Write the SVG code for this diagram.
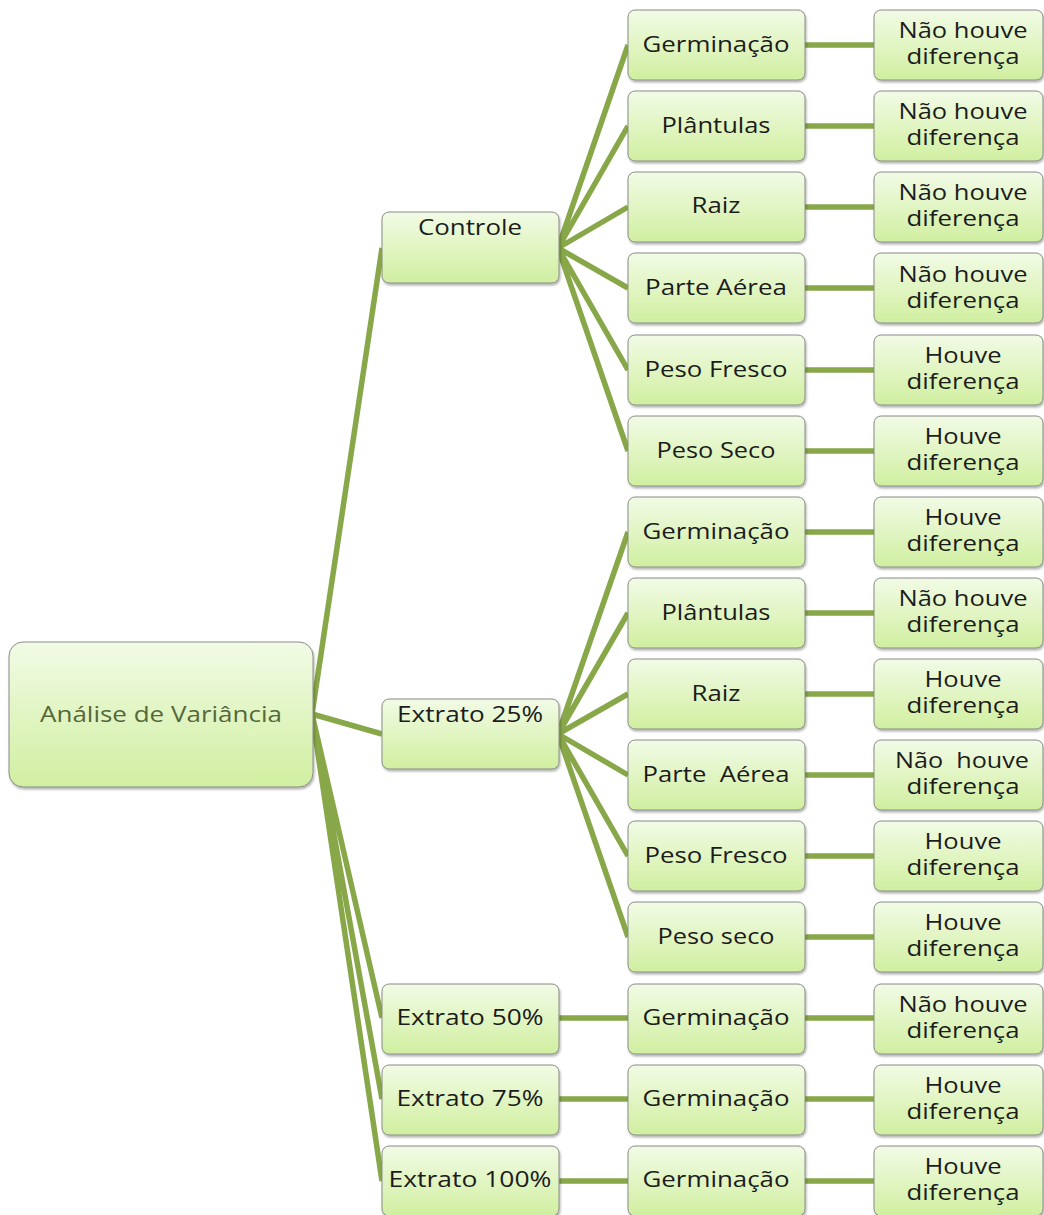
<svg xmlns="http://www.w3.org/2000/svg" width="1044" height="1215" viewBox="0 0 1044 1215">
<defs>
<linearGradient id="g" x1="0" y1="0" x2="0" y2="1">
<stop offset="0" stop-color="#f2fbe6"/>
<stop offset="1" stop-color="#d0efa0"/>
</linearGradient>
<filter id="sh" x="-5%" y="-5%" width="115%" height="120%">
<feDropShadow dx="1" dy="2" stdDeviation="1.2" flood-color="#000" flood-opacity="0.3"/>
</filter>
<style>
.b{fill:url(#g);stroke:#8a8a8a;stroke-width:1;filter:url(#sh)}
.t{font-family:"Open Sans","Noto Sans",sans-serif;font-size:21px;fill:#1c1c1c;text-anchor:middle;white-space:pre}
.r{fill:#56683a}
.c path{fill:none;stroke:#87a749;stroke-width:5.5;stroke-linecap:butt}
</style>
</defs>
<rect width="1044" height="1215" fill="#fff"/>
<g class="c" id="connectors">
<path d="M312 714L382 248M312 714L382 734M312 714L382 1018M312 714L382 1099M312 714L382 1181"/>
<path d="M558 248L628 45M558 248L628 126M558 248L628 207M558 248L628 288M558 248L628 370M558 248L628 451"/>
<path d="M558 734L628 532M558 734L628 613M558 734L628 694M558 734L628 775M558 734L628 856M558 734L628 937"/>
<path d="M558 1018L628 1018M558 1099L628 1099M558 1181L628 1181"/>
<path d="M805 45H874M805 126H874M805 207H874M805 288H874M805 370H874M805 451H874M805 532H874M805 613H874M805 694H874M805 775H874M805 856H874M805 937H874M805 1018H874M805 1099H874M805 1181H874"/>
</g>
<g id="root"><rect class="b" x="9" y="642" width="304" height="145" rx="14"/><text class="t r" x="161" y="722" textLength="242" lengthAdjust="spacingAndGlyphs">Análise de Variância</text></g>
<g id="controle"><rect class="b" x="382" y="212" width="177" height="71" rx="7"/><text class="t" x="470" y="235" textLength="104" lengthAdjust="spacingAndGlyphs">Controle</text></g>
<g id="e25"><rect class="b" x="382" y="699" width="177" height="70" rx="7"/><text class="t" x="470" y="722" textLength="146" lengthAdjust="spacingAndGlyphs">Extrato 25%</text></g>
<g id="e50"><rect class="b" x="382" y="984" width="177" height="70" rx="7"/><text class="t" x="470" y="1025" textLength="147" lengthAdjust="spacingAndGlyphs">Extrato 50%</text></g>
<g id="e75"><rect class="b" x="382" y="1065" width="177" height="70" rx="7"/><text class="t" x="470" y="1106" textLength="147" lengthAdjust="spacingAndGlyphs">Extrato 75%</text></g>
<g id="e100"><rect class="b" x="382" y="1146" width="177" height="70" rx="7"/><text class="t" x="470" y="1187" textLength="163" lengthAdjust="spacingAndGlyphs">Extrato 100%</text></g>

<g id="p0"><rect class="b" x="628" y="10" width="177" height="70" rx="7"/><text class="t" x="716" y="52" textLength="147" lengthAdjust="spacingAndGlyphs">Germinação</text></g>
<g id="p1"><rect class="b" x="628" y="91" width="177" height="70" rx="7"/><text class="t" x="716" y="133" textLength="109" lengthAdjust="spacingAndGlyphs">Plântulas</text></g>
<g id="p2"><rect class="b" x="628" y="172" width="177" height="70" rx="7"/><text class="t" x="716" y="213" textLength="49" lengthAdjust="spacingAndGlyphs">Raiz</text></g>
<g id="p3"><rect class="b" x="628" y="253" width="177" height="70" rx="7"/><text class="t" x="716" y="295" textLength="142" lengthAdjust="spacingAndGlyphs">Parte Aérea</text></g>
<g id="p4"><rect class="b" x="628" y="335" width="177" height="70" rx="7"/><text class="t" x="716" y="377" textLength="143" lengthAdjust="spacingAndGlyphs">Peso Fresco</text></g>
<g id="p5"><rect class="b" x="628" y="416" width="177" height="70" rx="7"/><text class="t" x="716" y="458" textLength="119" lengthAdjust="spacingAndGlyphs">Peso Seco</text></g>
<g id="p6"><rect class="b" x="628" y="497" width="177" height="70" rx="7"/><text class="t" x="716" y="539" textLength="147" lengthAdjust="spacingAndGlyphs">Germinação</text></g>
<g id="p7"><rect class="b" x="628" y="578" width="177" height="70" rx="7"/><text class="t" x="716" y="620" textLength="109" lengthAdjust="spacingAndGlyphs">Plântulas</text></g>
<g id="p8"><rect class="b" x="628" y="659" width="177" height="70" rx="7"/><text class="t" x="716" y="701" textLength="49" lengthAdjust="spacingAndGlyphs">Raiz</text></g>
<g id="p9"><rect class="b" x="628" y="740" width="177" height="70" rx="7"/><text class="t" x="716" y="782" textLength="147" lengthAdjust="spacingAndGlyphs">Parte  Aérea</text></g>
<g id="p10"><rect class="b" x="628" y="821" width="177" height="70" rx="7"/><text class="t" x="716" y="863" textLength="143" lengthAdjust="spacingAndGlyphs">Peso Fresco</text></g>
<g id="p11"><rect class="b" x="628" y="902" width="177" height="70" rx="7"/><text class="t" x="716" y="944" textLength="117" lengthAdjust="spacingAndGlyphs">Peso seco</text></g>
<g id="p12"><rect class="b" x="628" y="984" width="177" height="70" rx="7"/><text class="t" x="716" y="1025" textLength="147" lengthAdjust="spacingAndGlyphs">Germinação</text></g>
<g id="p13"><rect class="b" x="628" y="1065" width="177" height="70" rx="7"/><text class="t" x="716" y="1106" textLength="147" lengthAdjust="spacingAndGlyphs">Germinação</text></g>
<g id="p14"><rect class="b" x="628" y="1146" width="177" height="70" rx="7"/><text class="t" x="716" y="1187" textLength="147" lengthAdjust="spacingAndGlyphs">Germinação</text></g>

<g id="l0"><rect class="b" x="874" y="10" width="169" height="70" rx="7"/><text class="t" x="963" y="38" textLength="129" lengthAdjust="spacingAndGlyphs">Não houve</text><text class="t" x="963" y="64" textLength="113" lengthAdjust="spacingAndGlyphs">diferença</text></g>
<g id="l1"><rect class="b" x="874" y="91" width="169" height="70" rx="7"/><text class="t" x="963" y="119" textLength="129" lengthAdjust="spacingAndGlyphs">Não houve</text><text class="t" x="963" y="145" textLength="113" lengthAdjust="spacingAndGlyphs">diferença</text></g>
<g id="l2"><rect class="b" x="874" y="172" width="169" height="70" rx="7"/><text class="t" x="963" y="200" textLength="129" lengthAdjust="spacingAndGlyphs">Não houve</text><text class="t" x="963" y="226" textLength="113" lengthAdjust="spacingAndGlyphs">diferença</text></g>
<g id="l3"><rect class="b" x="874" y="253" width="169" height="70" rx="7"/><text class="t" x="963" y="282" textLength="129" lengthAdjust="spacingAndGlyphs">Não houve</text><text class="t" x="963" y="308" textLength="113" lengthAdjust="spacingAndGlyphs">diferença</text></g>
<g id="l4"><rect class="b" x="874" y="335" width="169" height="70" rx="7"/><text class="t" x="963" y="363" textLength="77" lengthAdjust="spacingAndGlyphs">Houve</text><text class="t" x="963" y="389" textLength="113" lengthAdjust="spacingAndGlyphs">diferença</text></g>
<g id="l5"><rect class="b" x="874" y="416" width="169" height="70" rx="7"/><text class="t" x="963" y="444" textLength="77" lengthAdjust="spacingAndGlyphs">Houve</text><text class="t" x="963" y="470" textLength="113" lengthAdjust="spacingAndGlyphs">diferença</text></g>
<g id="l6"><rect class="b" x="874" y="497" width="169" height="70" rx="7"/><text class="t" x="963" y="525" textLength="77" lengthAdjust="spacingAndGlyphs">Houve</text><text class="t" x="963" y="551" textLength="113" lengthAdjust="spacingAndGlyphs">diferença</text></g>
<g id="l7"><rect class="b" x="874" y="578" width="169" height="70" rx="7"/><text class="t" x="963" y="606" textLength="129" lengthAdjust="spacingAndGlyphs">Não houve</text><text class="t" x="963" y="632" textLength="113" lengthAdjust="spacingAndGlyphs">diferença</text></g>
<g id="l8"><rect class="b" x="874" y="659" width="169" height="70" rx="7"/><text class="t" x="963" y="687" textLength="77" lengthAdjust="spacingAndGlyphs">Houve</text><text class="t" x="963" y="713" textLength="113" lengthAdjust="spacingAndGlyphs">diferença</text></g>
<g id="l9"><rect class="b" x="874" y="740" width="169" height="70" rx="7"/><text class="t" x="962" y="768" textLength="134" lengthAdjust="spacingAndGlyphs">Não  houve</text><text class="t" x="963" y="794" textLength="113" lengthAdjust="spacingAndGlyphs">diferença</text></g>
<g id="l10"><rect class="b" x="874" y="821" width="169" height="70" rx="7"/><text class="t" x="963" y="849" textLength="77" lengthAdjust="spacingAndGlyphs">Houve</text><text class="t" x="963" y="875" textLength="113" lengthAdjust="spacingAndGlyphs">diferença</text></g>
<g id="l11"><rect class="b" x="874" y="902" width="169" height="70" rx="7"/><text class="t" x="963" y="930" textLength="77" lengthAdjust="spacingAndGlyphs">Houve</text><text class="t" x="963" y="956" textLength="113" lengthAdjust="spacingAndGlyphs">diferença</text></g>
<g id="l12"><rect class="b" x="874" y="984" width="169" height="70" rx="7"/><text class="t" x="963" y="1012" textLength="129" lengthAdjust="spacingAndGlyphs">Não houve</text><text class="t" x="963" y="1038" textLength="113" lengthAdjust="spacingAndGlyphs">diferença</text></g>
<g id="l13"><rect class="b" x="874" y="1065" width="169" height="70" rx="7"/><text class="t" x="963" y="1093" textLength="77" lengthAdjust="spacingAndGlyphs">Houve</text><text class="t" x="963" y="1119" textLength="113" lengthAdjust="spacingAndGlyphs">diferença</text></g>
<g id="l14"><rect class="b" x="874" y="1146" width="169" height="70" rx="7"/><text class="t" x="963" y="1174" textLength="77" lengthAdjust="spacingAndGlyphs">Houve</text><text class="t" x="963" y="1200" textLength="113" lengthAdjust="spacingAndGlyphs">diferença</text></g>
</svg>
